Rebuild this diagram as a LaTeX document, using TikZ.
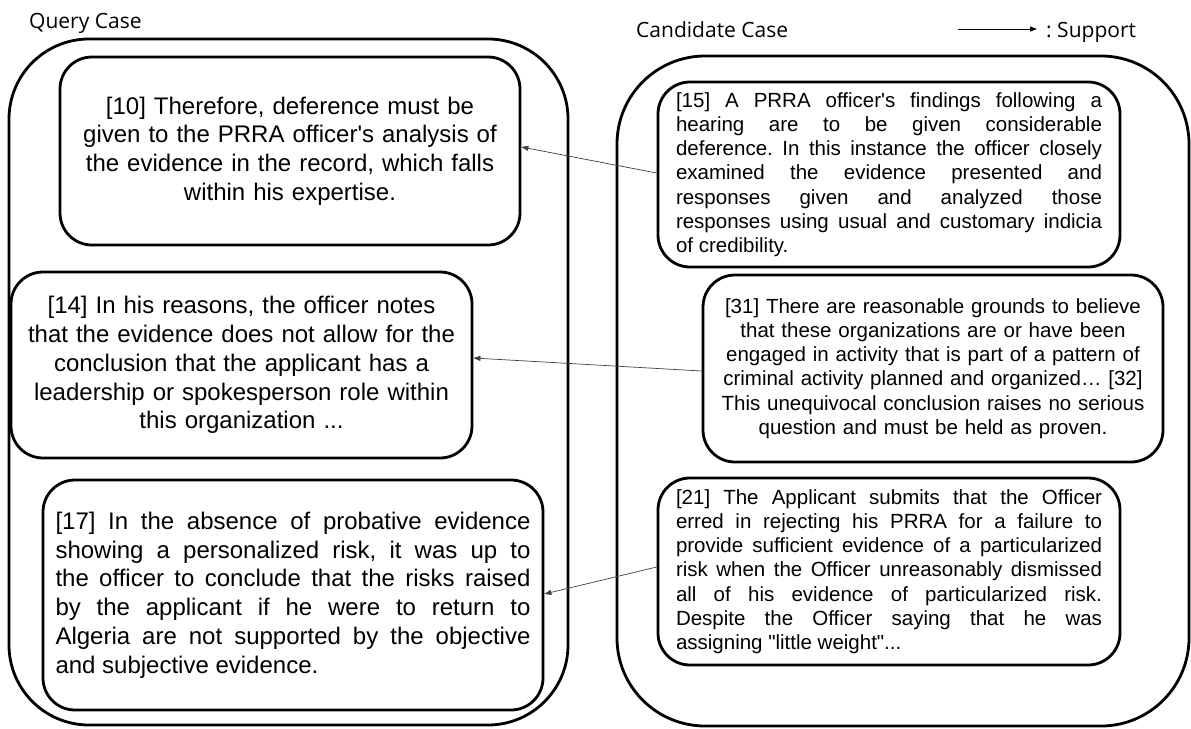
\documentclass[tikz,border=0pt]{standalone}
\usepackage{fontspec}
\setmainfont{Liberation Sans}[Ligatures=TeXOff]
\newfontfamily\titlefont{Open Sans}[Ligatures=TeXOff]
\usetikzlibrary{arrows.meta}
\begin{document}
\frenchspacing
\begin{tikzpicture}[x=1pt,y=-1pt,
  outerbox/.style={draw, line width=2.8pt, inner sep=0pt},
  card/.style={draw, line width=2.8pt, rounded corners=32pt, inner sep=0pt},
  bigtext/.style={font=\fontsize{24}{28.8}\selectfont},
  smalltext/.style={font=\fontsize{20.5}{24.2}\selectfont},
  support/.style={-{Triangle[length=7pt,width=5pt]}, line width=0.7pt, draw=black!75},
  legendarrow/.style={-{Triangle[length=7pt,width=5pt]}, line width=0.9pt, draw=black},
  title/.style={font=\titlefont\fontsize{21}{25}\selectfont, inner sep=0pt, anchor=base west}]
\useasboundingbox[fill=white] (0,0) rectangle (1191,728);

% titles and legend
\node[title] (qc) at (29,28) {Query Case};
\node[title] (cc) at (636,37) {Candidate Case};
\coordinate (lgA) at (958,29);
\coordinate (lgB) at (1037,29);
\draw[legendarrow] (lgA) -- (lgB);
\node[title] (sup) at (1046,37) {: Support};

% containers
\node[outerbox, rounded corners=80pt, minimum width=559pt, minimum height=686pt] (query) at (288.5,382) {};
\node[outerbox, rounded corners=88pt, minimum width=572pt, minimum height=670pt] (cand) at (903,391) {};

% query case paragraphs
\node[card, bigtext, minimum width=460pt, minimum height=188pt, text width=440pt, align=center] (b10) at (290,151)
  {[10] Therefore, deference must be\\ given to the PRRA officer's analysis of\\ the evidence in the record, which falls\\ within his expertise.};
\node[card, bigtext, minimum width=461pt, minimum height=186pt, text width=440pt, align=center] (b14) at (241.5,365)
  {[14] In his reasons, the officer notes\\ that the evidence does not allow for the\\ conclusion that the applicant has a\\ leadership or spokesperson role within\\ this organization ...};
\node[card, bigtext, minimum width=500pt, minimum height=230pt, text width=475pt, align=justify] (b17) at (293,595)
  {[17] In the absence of probative evidence\linebreak showing a personalized risk, it was up to\linebreak the officer to conclude that the risks raised\linebreak by the applicant if he were to return to\linebreak Algeria are not supported by the objective\linebreak and subjective evidence.};

% candidate case paragraphs
\node[card, smalltext, minimum width=462pt, minimum height=185pt, text width=426pt, align=justify] (b15) at (889,174.5)
  {[15] A PRRA officer's findings following a\linebreak hearing are to be given considerable\linebreak deference. In this instance the officer closely\linebreak examined the evidence presented and\linebreak responses given and analyzed those\linebreak responses using usual and customary indicia\linebreak of credibility.};
\node[card, smalltext, minimum width=460pt, minimum height=187pt, text width=440pt, align=center] (b31) at (933,368.5)
  {[31] There are reasonable grounds to believe\\ that these organizations are or have been\\ engaged in activity that is part of a pattern of\\ criminal activity planned and organized… [32]\\ This unequivocal conclusion raises no serious\\ question and must be held as proven.};
\node[card, smalltext, minimum width=462pt, minimum height=187pt, text width=426pt, align=justify] (b21) at (889,571.5)
  {[21] The Applicant submits that the Officer\linebreak erred in rejecting his PRRA for a failure to\linebreak provide sufficient evidence of a particularized\linebreak risk when the Officer unreasonably dismissed\linebreak all of his evidence of particularized risk.\linebreak Despite the Officer saying that he was\linebreak assigning "little weight"...};

% support connectors
\draw[support] ([yshift=1.5pt]b15.west) -- ([yshift=4pt]b10.east);
\draw[support] ([yshift=-2.5pt]b31.west) -- ([yshift=7pt]b14.east);
\draw[support] ([yshift=4.5pt]b21.west) -- ([yshift=1pt]b17.east);
\end{tikzpicture}
\end{document}
